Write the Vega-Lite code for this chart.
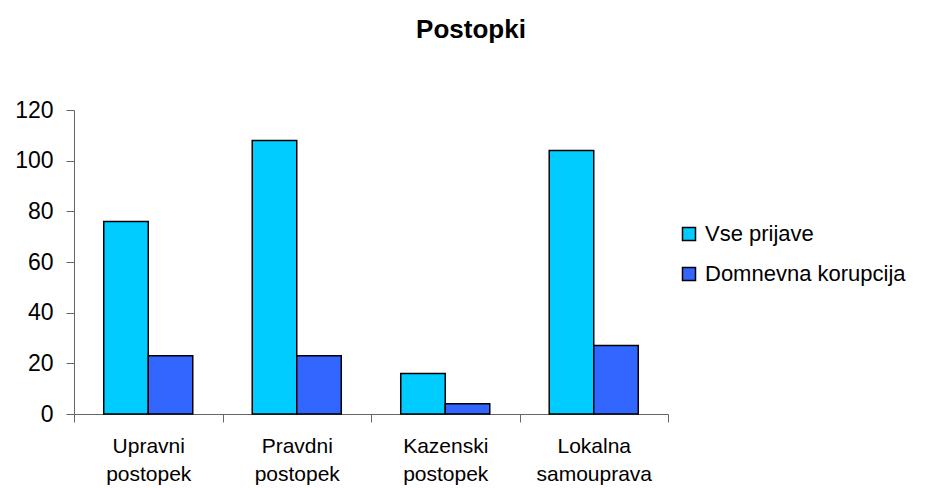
{
  "$schema": "https://vega.github.io/schema/vega-lite/v6.json",
  "width": 594,
  "height": 304,
  "autosize": {"type": "none"},
  "padding": {"left": 74, "top": 110, "right": 273, "bottom": 74},
  "background": "white",
  "title": {
    "text": "Postopki",
    "fontSize": 26,
    "font": "Liberation Sans",
    "fontWeight": "bold",
    "color": "black",
    "anchor": "middle",
    "dx": 100,
    "offset": 56
  },
  "data": {
    "values": [
      {"kategorija": "Upravni postopek", "serija": "Vse prijave", "vrednost": 76},
      {"kategorija": "Upravni postopek", "serija": "Domnevna korupcija", "vrednost": 23},
      {"kategorija": "Pravdni postopek", "serija": "Vse prijave", "vrednost": 108},
      {"kategorija": "Pravdni postopek", "serija": "Domnevna korupcija", "vrednost": 23},
      {"kategorija": "Kazenski postopek", "serija": "Vse prijave", "vrednost": 16},
      {"kategorija": "Kazenski postopek", "serija": "Domnevna korupcija", "vrednost": 4},
      {"kategorija": "Lokalna samouprava", "serija": "Vse prijave", "vrednost": 104},
      {"kategorija": "Lokalna samouprava", "serija": "Domnevna korupcija", "vrednost": 27}
    ]
  },
  "mark": {"type": "bar", "stroke": "black", "strokeWidth": 1.5},
  "encoding": {
    "x": {
      "field": "kategorija",
      "type": "nominal",
      "sort": null,
      "scale": {"paddingInner": 0, "paddingOuter": 0},
      "axis": {
        "title": null,
        "tickBand": "extent",
        "domainColor": "#666666",
        "tickColor": "#666666",
        "tickSize": 8,
        "labelFont": "Liberation Sans",
        "labelFontSize": 21,
        "labelColor": "black",
        "labelPadding": 13,
        "labelLineHeight": 28,
        "labelAngle": 0,
        "labelLimit": 300,
        "labelExpr": "split(datum.label, ' ')"
      }
    },
    "xOffset": {
      "field": "serija",
      "type": "nominal",
      "sort": ["Vse prijave", "Domnevna korupcija"],
      "scale": {"paddingInner": 0, "paddingOuter": 0.668}
    },
    "y": {
      "field": "vrednost",
      "type": "quantitative",
      "scale": {"domain": [0, 120], "nice": false},
      "axis": {
        "title": null,
        "values": [0, 20, 40, 60, 80, 100, 120],
        "grid": false,
        "tickSize": 8,
        "labelFont": "Liberation Sans",
        "labelFontSize": 23,
        "labelPadding": 13,
        "labelColor": "black",
        "domainColor": "#666666",
        "tickColor": "#666666"
      }
    },
    "color": {
      "field": "serija",
      "type": "nominal",
      "scale": {"domain": ["Vse prijave", "Domnevna korupcija"], "range": ["#00CCFF", "#3366FF"]},
      "legend": {
        "title": null,
        "orient": "none",
        "legendX": 604,
        "legendY": 113,
        "padding": 0,
        "labelFont": "Liberation Sans",
        "labelFontSize": 22,
        "labelColor": "black",
        "labelOffset": 5,
        "labelLimit": 400,
        "symbolType": "square",
        "symbolSize": 169,
        "symbolStrokeColor": "black",
        "symbolStrokeWidth": 1.5,
        "symbolOpacity": 1,
        "rowPadding": 18
      }
    }
  },
  "config": {"view": {"stroke": null}, "font": "Liberation Sans"}
}
